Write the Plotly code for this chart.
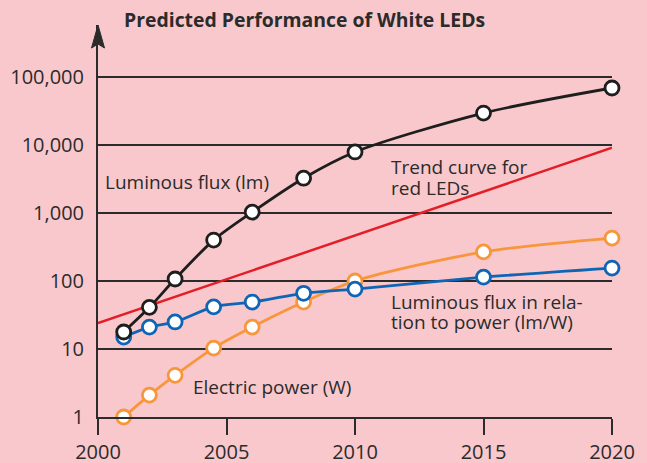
import plotly.graph_objects as go

years = [2001, 2002, 2003, 2004.5, 2006, 2008, 2010, 2015, 2020]
flux_lm = [17.8, 41, 107, 400, 1030, 3250, 7900, 29500, 69000]
flux_per_w = [15, 21, 25, 41.7, 49, 66, 76, 114, 155]
power_w = [1.0, 2.1, 4.1, 10.3, 21, 49, 100, 268, 427]
red_years = [2000, 2020]
red_trend = [24, 9100]

y_ticks = [1, 10, 100, 1000, 10000, 100000]
y_ticktext = ["1", "10", "100", "1,000", "10,000", "100,000"]
x_ticks = [2000, 2005, 2010, 2015, 2020]

label_lines = ["Luminous flux (lm)", "Trend curve for", "red LEDs",
               "Luminous flux in rela-", "tion to power (lm/W)", "Electric power (W)"]
label_x = [2000.24, 2011.38, 2011.38, 2011.35, 2011.35, 2003.66]
# vertical positions in log10 units (annotation coordinates on a log axis)
label_logy = [3.45, 3.67, 3.375, 1.69, 1.40, 0.44]

BG = "#f9c8cc"
INK = "#2b2b2b"
FONT = "Open Sans"
W, H = 647, 463
ML, MR, MT, MB = 98, 35, 25, 46
PW, PH = W - ML - MR, H - MT - MB

fig = go.Figure()

fig.add_trace(go.Scatter(x=red_years, y=red_trend, mode="lines",
                         line=dict(color="#e31e26", width=2.5), cliponaxis=False))

def series(vals, color):
    fig.add_trace(go.Scatter(
        x=years, y=vals, mode="lines+markers",
        line=dict(color=color, width=2.8, shape="spline", smoothing=0.8),
        marker=dict(size=14, color="white", line=dict(color=color, width=2.8)),
        cliponaxis=False))

series(power_w, "#f7963b")
series(flux_per_w, "#0f65b5")
series(flux_lm, "#1e1e1e")

for t, lx, ly in zip(label_lines, label_x, label_logy):
    fig.add_annotation(x=lx, y=ly, yref="y", text=t, showarrow=False,
                       xanchor="left", yanchor="middle", align="left", borderpad=0,
                       font=dict(family=FONT, size=19, color=INK))

# arrowhead on y axis (paper coordinates)
dx, dy, dn = 6.5 / PW, 23 / PH, 19 / PH
fig.add_shape(type="path", xref="paper", yref="paper",
              path=f"M 0 1 L {-dx} {1-dy} L 0 {1-dn} L {dx} {1-dy} Z",
              fillcolor=INK, line=dict(color=INK, width=1), layer="above")

fig.update_layout(
    width=W, height=H,
    paper_bgcolor=BG, plot_bgcolor=BG,
    margin=dict(l=ML, r=MR, t=MT, b=MB, autoexpand=False),
    showlegend=False,
    font=dict(family=FONT, color=INK),
    title=dict(text="<b>Predicted Performance of White LEDs</b>",
               x=124 / W, xanchor="left", xref="container",
               y=1 - 20 / H, yanchor="middle", yref="container",
               font=dict(family=FONT, size=19.4, color=INK)),
)

fig.update_xaxes(range=[2000, 2020], tickvals=x_ticks, showgrid=False, zeroline=False,
                 showline=True, linecolor=INK, linewidth=2, automargin=False,
                 ticks="outside", ticklen=16, tickwidth=2, tickcolor=INK,
                 tickfont=dict(family=FONT, size=20, color=INK))
fig.update_yaxes(type="log", range=[0, 5.765], tickvals=y_ticks, ticktext=y_ticktext,
                 showgrid=True, gridcolor=INK, gridwidth=1.5, zeroline=False,
                 showline=True, linecolor=INK, linewidth=2, ticks="", automargin=False,
                 ticklabelstandoff=8,
                 tickfont=dict(family=FONT, size=20, color=INK))

fig.write_html("out.html", config={"displayModeBar": False},
               post_script=f"document.body.style.margin='0';document.body.style.background='{BG}';")
